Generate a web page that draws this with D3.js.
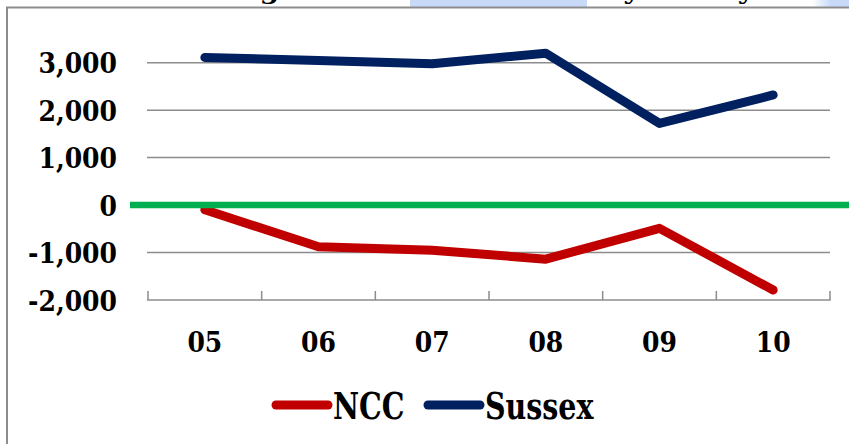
<!DOCTYPE html>
<html>
<head>
<meta charset="utf-8">
<script src="https://cdn.jsdelivr.net/npm/d3@7"></script>
<style>
  html, body { margin: 0; padding: 0; background: #fff; }
  svg { display: block; }
  text { font-family: "DejaVu Serif", serif; font-weight: bold; fill: #000; }
</style>
</head>
<body>
<svg id="chart" width="849" height="444"></svg>
<script>
// Net migration by year, 2005–2010
const years = ["05", "06", "07", "08", "09", "10"];
const ncc = [-100, -880, -950, -1140, -490, -1790];
const sussex = [3110, 3045, 2980, 3200, 1720, 2320];
const yTicks = [-2000, -1000, 0, 1000, 2000, 3000];
const seriesNames = ["NCC", "Sussex"];
const seriesColors = ["#c00000", "#002060"];
const titleText = "Chart 4: Annual net migration of individuals by county";

const W = 849, H = 444;
const svg = d3.select("#chart");

// heading strip above the chart frame (mostly off the top edge)
svg.append("rect").attr("x", 410).attr("y", 0).attr("width", 177).attr("height", 7).attr("fill", "#c9daf8");
const grad = svg.append("defs").append("linearGradient").attr("id", "hl").attr("x1", 0).attr("x2", 1);
grad.append("stop").attr("offset", 0).attr("stop-color", "#ffffff");
grad.append("stop").attr("offset", 0.5).attr("stop-color", "#c9daf8");
grad.append("stop").attr("offset", 1).attr("stop-color", "#c9daf8");
svg.append("rect").attr("x", 812).attr("y", 0).attr("width", 37).attr("height", 7).attr("fill", "url(#hl)");

const title = svg.append("text")
  .attr("x", 0).attr("y", -1.5)
  .style("font-size", "23px")
  .text(titleText);
// place the heading so "migration" and "county" fall across the frame width
(function fitTitle() {
  const node = title.node();
  const gi = titleText.indexOf("migration") + 6;
  const yi = titleText.length - 1;
  const gx = node.getStartPositionOfChar(gi).x + node.getExtentOfChar(gi).width / 2;
  const yx = node.getStartPositionOfChar(yi).x + node.getExtentOfChar(yi).width / 2;
  const s = (746 - 330) / (yx - gx);
  const tx = 330 - gx * s;
  title.attr("transform", `translate(${tx},0) scale(${s},1)`);
})();

// chart frame
svg.append("path")
  .attr("d", `M7,${H} V7.5 H${W}`)
  .attr("fill", "none").attr("stroke", "#8c8c8c").attr("stroke-width", 2);

// scales
const x = d3.scalePoint().domain(years).range([148, 830]).padding(0.5);
const y = d3.scaleLinear().domain([-2000, 3000]).range([300, 62.7]);
const step = x.step();

// horizontal gridlines
svg.append("g").selectAll("line")
  .data(yTicks.filter(v => v !== -2000 && v !== 0))
  .join("line")
  .attr("x1", 147).attr("x2", 830)
  .attr("y1", d => y(d)).attr("y2", d => y(d))
  .attr("stroke", "#8c8c8c").attr("stroke-width", 1.5);

// category axis at the bottom of the value range, ticks pointing up
const xAxisLine = svg.append("g");
xAxisLine.append("line")
  .attr("x1", 147).attr("x2", 830.7)
  .attr("y1", y(-2000)).attr("y2", y(-2000))
  .attr("stroke", "#8c8c8c").attr("stroke-width", 1.5);
const bounds = d3.range(years.length + 1).map(i => x(years[0]) - step / 2 + i * step);
xAxisLine.selectAll("line.tick")
  .data(bounds)
  .join("line").attr("class", "tick")
  .attr("x1", d => d).attr("x2", d => d)
  .attr("y1", y(-2000)).attr("y2", y(-2000) - 9)
  .attr("stroke", "#8c8c8c").attr("stroke-width", 1.5);

// value labels (plain hyphen for negatives)
const fmt = v => d3.format(",")(v).replace("\u2212", "-");
svg.append("g").selectAll("text")
  .data(yTicks)
  .join("text")
  .attr("transform", d => `translate(117,${y(d) + 10.5}) scale(0.88,1)`)
  .attr("text-anchor", "end")
  .style("font-size", "28.5px")
  .text(d => fmt(d));

// category labels
svg.append("g").selectAll("text")
  .data(years)
  .join("text")
  .attr("transform", d => `translate(${x(d)},352) scale(0.88,1)`)
  .attr("text-anchor", "middle")
  .style("font-size", "28.5px")
  .text(d => d);

// series lines
const line = d3.line().x((d, i) => x(years[i])).y(d => y(d));
[ncc, sussex].forEach((vals, k) => {
  svg.append("path")
    .datum(vals)
    .attr("d", line)
    .attr("fill", "none")
    .attr("stroke", seriesColors[k])
    .attr("stroke-width", 9)
    .attr("stroke-linecap", "round")
    .attr("stroke-linejoin", "round");
});

// zero reference line
svg.append("line")
  .attr("x1", 130).attr("x2", W)
  .attr("y1", y(0)).attr("y2", y(0))
  .attr("stroke", "#00b050").attr("stroke-width", 6.5);

// legend
const legendItems = [
  { name: seriesNames[0], color: seriesColors[0], x0: 272 },
  { name: seriesNames[1], color: seriesColors[1], x0: 424 }
];
const lg = svg.append("g");
legendItems.forEach(it => {
  lg.append("line")
    .attr("x1", it.x0 + 4).attr("x2", it.x0 + 56)
    .attr("y1", 405).attr("y2", 405)
    .attr("stroke", it.color).attr("stroke-width", 9)
    .attr("stroke-linecap", "round");
  lg.append("text")
    .attr("transform", `translate(${it.x0 + 61},419) scale(0.77,1)`)
    .style("font-size", "37px")
    .text(it.name);
});
</script>
</body>
</html>
